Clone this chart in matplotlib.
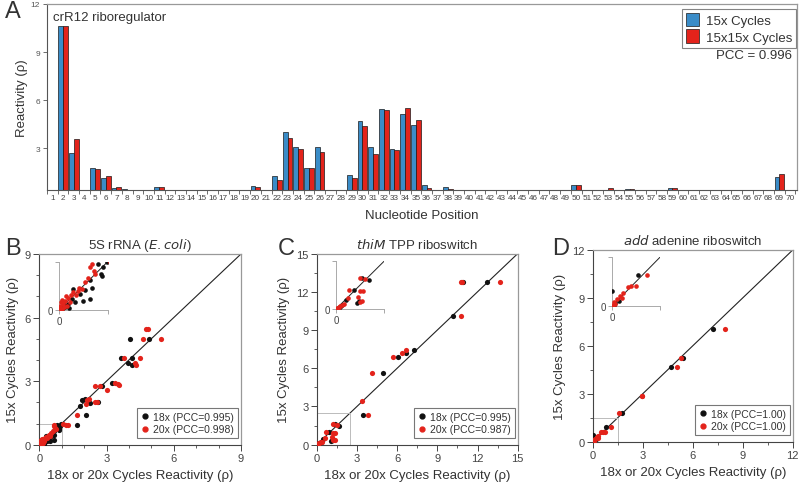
import matplotlib
matplotlib.use("Agg")
import matplotlib.pyplot as plt
from matplotlib.patches import Rectangle
from matplotlib.lines import Line2D
import numpy as np

plt.rcParams['font.family'] = ['Liberation Sans', 'DejaVu Sans']

# ---------------- Panel A data ----------------
positions = list(range(1, 71))
vals_15x = {2: 10.6, 3: 2.69, 5: 1.77, 6: 1.14, 7: 0.50, 8: 0.44, 11: 0.60, 20: 0.64,
            22: 1.25, 23: 4.00, 24: 3.06, 25: 1.77, 26: 3.06, 28: 0.42, 29: 1.33,
            30: 4.69, 31: 3.06, 32: 5.46, 33: 2.96, 34: 5.12, 35: 4.46, 36: 0.69,
            38: 0.58, 50: 0.73, 53: 0.42, 55: 0.44, 57: 0.42, 59: 0.54, 69: 1.20}
vals_15x15x = {2: 10.64, 3: 3.58, 5: 1.69, 6: 1.25, 7: 0.56, 8: 0.42, 11: 0.60, 20: 0.56,
               22: 1.04, 23: 3.64, 24: 2.96, 25: 1.77, 26: 2.77, 28: 0.40, 29: 1.14,
               30: 4.39, 31: 2.64, 32: 5.39, 33: 2.89, 34: 5.54, 35: 4.77, 36: 0.54,
               38: 0.46, 50: 0.73, 53: 0.50, 55: 0.45, 57: 0.42, 59: 0.54, 69: 1.41}
series_15x = [vals_15x.get(p, 0.0) for p in positions]
series_15x15x = [vals_15x15x.get(p, 0.0) for p in positions]

# ---------------- Panel B data (5S rRNA) ----------------
B_18x_x = [4.03, 4.91, 3.64, 4.13, 3.96, 4.12, 2.79, 3.24, 1.90, 2.04, 1.80, 2.27, 2.64, 2.08, 1.67,
           0.98, 0.81, 0.91, 0.86, 0.88, 0.64, 0.67, 0.53, 0.43, 0.64, 0.50, 0.33, 0.26, 0.19, 0.12,
           0.29, 0.05, 0.08, 0.15, 0.02, 0.10, 0.20]
B_18x_y = [4.99, 4.99, 4.07, 4.10, 3.87, 3.78, 2.75, 2.93, 2.12, 2.15, 1.84, 1.97, 2.03, 1.40, 0.93,
           1.00, 0.95, 0.90, 0.74, 0.71, 0.63, 0.45, 0.41, 0.33, 0.23, 0.19, 0.16, 0.23, 0.12, 0.06,
           0.43, 0.02, 0.04, 0.08, 0.00, 0.10, 0.05]
B_20x_x = [4.78, 4.85, 4.64, 5.44, 3.76, 4.48, 4.29, 4.33, 2.48, 2.72, 3.03, 3.39, 3.50, 3.57,
           2.15, 2.24, 2.09, 2.49, 2.57, 1.70, 1.20, 1.27, 1.05,
           0.67, 0.64, 0.71, 0.74, 0.60, 0.53, 0.47, 0.38, 0.29, 0.24, 0.19, 0.12, 0.05, 0.09,
           0.02, 0.03, 0.16, 0.22, 0.10, 0.06, 0.14, 0.35, 0.42, 0.02, 0.07]
B_20x_y = [5.46, 5.46, 4.99, 4.99, 4.07, 4.10, 3.85, 3.78, 2.75, 2.75, 2.60, 2.93, 2.87, 2.80,
           2.12, 2.15, 1.93, 2.03, 2.03, 1.40, 0.95, 0.93, 1.00,
           0.95, 0.88, 0.81, 0.74, 0.66, 0.57, 0.43, 0.40, 0.37, 0.30, 0.24, 0.19, 0.16, 0.12,
           0.09, 0.05, 0.09, 0.16, 0.06, 0.20, 0.28, 0.30, 0.45, 0.02, 0.03]

# ---------------- Panel C data (thiM TPP) ----------------
C_18x_x = [10.94, 12.69, 10.20, 7.28, 6.66, 6.09, 4.97, 3.43, 1.69, 1.37, 0.94, 1.19, 1.10,
           0.50, 0.30, 0.10, 0.20, 0.05]
C_18x_y = [12.76, 12.76, 10.08, 7.46, 7.17, 6.89, 5.61, 2.33, 1.49, 1.62, 0.97, 0.40, 0.30,
           0.45, 0.20, 0.05, 0.10, 0.00]
C_20x_x = [10.75, 10.85, 13.68, 10.74, 6.64, 6.34, 5.72, 4.10, 3.38, 3.85, 1.24, 1.49, 0.69,
           1.24, 1.39, 1.12, 1.37, 1.25, 0.30, 0.40, 0.15, 0.05, 0.20, 0.60, 0.10]
C_20x_y = [12.76, 12.76, 12.76, 10.08, 7.46, 7.17, 6.89, 5.61, 3.41, 2.33, 1.62, 1.55, 0.97,
           0.93, 0.93, 0.60, 0.40, 0.35, 0.20, 0.25, 0.10, 0.05, 0.15, 0.55, 0.02]

# ---------------- Panel D data (add adenine) ----------------
D_18x_x = [7.20, 4.68, 5.44, 1.78, 0.80, 0.00, 0.10, 0.05, 0.20]
D_18x_y = [7.05, 4.67, 5.23, 1.78, 0.94, 0.44, 0.08, 0.02, 0.15]
D_20x_x = [7.94, 5.04, 5.28, 2.98, 2.93, 1.60, 1.10, 0.50, 0.60, 0.75, 0.34, 0.24, 0.14,
           0.05, 0.02, 0.30, 0.10]
D_20x_y = [7.05, 4.67, 5.23, 2.85, 2.85, 1.78, 0.94, 0.58, 0.60, 0.60, 0.38, 0.31, 0.20,
           0.10, 0.03, 0.25, 0.05]

BLUE = '#3a8cc8'
RED = '#e3231b'
TXT = '#333333'
TICKC = '#444444'

fig = plt.figure(figsize=(8, 4.85), dpi=100)

# ---------------- Panel A ----------------
axA = fig.add_axes([0.05875, 0.6062, 0.9375, 0.3835])
x = np.array(positions)
w = 0.45
axA.bar(x - w / 2, series_15x, width=w, color=BLUE, edgecolor='#1a1a1a', linewidth=0.5,
        label='15x Cycles')
axA.bar(x + w / 2, series_15x15x, width=w, color=RED, edgecolor='#1a1a1a', linewidth=0.5,
        label='15x15x Cycles')
axA.set_xlim(0.55, 70.65)
axA.set_ylim(0.4, 12)
axA.set_yticks([3, 6, 9, 12])
axA.set_xticks(positions)
axA.set_xticklabels([str(p) for p in positions])
axA.set_xticks(np.arange(0.5, 71, 1.0), minor=True)
axA.tick_params(axis='x', which='major', length=0, labelsize=5.9, colors='#444444', pad=3)
axA.tick_params(axis='x', which='minor', length=3, width=0.6, color='#555555', direction='out')
axA.tick_params(axis='y', which='major', length=3, width=0.6, labelsize=6, colors='#555555', pad=2)
for s in ['left', 'bottom']:
    axA.spines[s].set_color('#555555')
    axA.spines[s].set_linewidth(0.8)
for s in ['top', 'right']:
    axA.spines[s].set_color('#999999')
    axA.spines[s].set_linewidth(0.9)
axA.set_ylabel('Reactivity (ρ)', fontsize=9.5, color=TXT, labelpad=2)
axA.set_xlabel('Nucleotide Position', fontsize=9.5, color=TXT, labelpad=6)
axA.text(0.008, 0.93, 'crR12 riboregulator', transform=axA.transAxes, fontsize=9.5, color=TXT,
         va='center', ha='left')
legA = axA.legend(loc='upper right', bbox_to_anchor=(0.9985, 0.975), fontsize=9.5, frameon=True,
                  fancybox=False, edgecolor='#666666', handlelength=1.0, handleheight=1.2,
                  handletextpad=0.5, borderpad=0.3, labelspacing=0.2, borderaxespad=0.0)
legA.get_frame().set_linewidth(0.8)
for t in legA.get_texts():
    t.set_color(TXT)
axA.text(0.993, 0.725, 'PCC = 0.996', transform=axA.transAxes, fontsize=9.5, color=TXT,
         ha='right', va='center')
fig.text(0.006, 0.975, 'A', fontsize=17, color=TXT, va='center', ha='left')


def scatter_panel(rect, inset_rect, lim, minor_step, irange, xs18, ys18, xs20, ys20,
                  pcc18, pcc20, title, letter, letter_pos, leg_anchor):
    ax = fig.add_axes(rect)
    ax.plot([0, lim], [0, lim], color='#222222', lw=0.8, zorder=1)
    ax.add_patch(Rectangle((0, 0), irange, irange, fill=False, edgecolor='#bbbbbb', lw=0.7,
                           zorder=1))
    ax.scatter(xs18, ys18, s=14, color='#111111', zorder=3, linewidths=0)
    ax.scatter(xs20, ys20, s=14, color=RED, zorder=3, linewidths=0)
    ax.set_xlim(0, lim)
    ax.set_ylim(0, lim)
    ticks = np.arange(0, lim + 0.01, 3)
    ax.set_xticks(ticks)
    ax.set_yticks(ticks)
    ax.set_xticklabels([f'{t:g}' for t in ticks])
    ax.set_yticklabels([f'{t:g}' for t in ticks])
    ax.set_xticks(np.arange(0, lim + 0.01, minor_step), minor=True)
    ax.set_yticks(np.arange(0, lim + 0.01, minor_step), minor=True)
    ax.tick_params(which='major', length=4, width=0.7, labelsize=8, colors=TICKC, pad=2)
    ax.tick_params(which='minor', length=2.5, width=0.6, color=TICKC)
    for s in ['left', 'bottom']:
        ax.spines[s].set_color('#444444')
        ax.spines[s].set_linewidth(0.8)
    for s in ['top', 'right']:
        ax.spines[s].set_color('#999999')
        ax.spines[s].set_linewidth(0.9)
    ax.set_xlabel('18x or 20x Cycles Reactivity (ρ)', fontsize=9.5, color=TXT, labelpad=4)
    ax.set_ylabel('15x Cycles Reactivity (ρ)', fontsize=9.5, color=TXT, labelpad=4)
    ax.set_title(title, fontsize=9.5, color=TXT, pad=4)
    h18 = Line2D([], [], marker='o', ls='', color='#111111', markersize=3.5,
                 label=f'18x (PCC={pcc18})')
    h20 = Line2D([], [], marker='o', ls='', color=RED, markersize=3.5,
                 label=f'20x (PCC={pcc20})')
    leg = ax.legend(handles=[h18, h20], loc='lower right', bbox_to_anchor=leg_anchor,
                    fontsize=7.5, frameon=True, fancybox=False, edgecolor='#555555',
                    handlelength=0.8, handletextpad=0.4, borderpad=0.35, labelspacing=0.25,
                    borderaxespad=0.0)
    leg.get_frame().set_linewidth(0.8)
    for t in leg.get_texts():
        t.set_color(TXT)
    fig.text(letter_pos[0], letter_pos[1], letter, fontsize=17, color=TXT, va='center', ha='left')

    ins = fig.add_axes(inset_rect)
    ins.plot([0, irange], [0, irange], color='#222222', lw=0.7, zorder=1)
    ins.scatter(xs18, ys18, s=11, color='#111111', zorder=3, linewidths=0, clip_on=True)
    ins.scatter(xs20, ys20, s=11, color=RED, zorder=3, linewidths=0, clip_on=True)
    ins.set_xlim(0, irange)
    ins.set_ylim(0, irange)
    ins.patch.set_alpha(0)
    for s in ['top', 'right']:
        ins.spines[s].set_visible(False)
    for s in ['left', 'bottom']:
        ins.spines[s].set_color('#aaaaaa')
        ins.spines[s].set_linewidth(0.7)
    ins.set_xticks([0, irange])
    ins.set_yticks([0, irange])
    ins.set_xticklabels(['0', ''])
    ins.set_yticklabels(['0', ''])
    ins.tick_params(length=3, width=0.6, color='#999999', labelsize=7, labelcolor=TICKC, pad=1.5)
    return ax


scatter_panel([0.0491, 0.0810, 0.2521, 0.3932], [0.07375, 0.3588, 0.0609, 0.0996], 9, 1.0, 1.0,
              B_18x_x, B_18x_y, B_20x_x, B_20x_y, '0.995', '0.998',
              '5S rRNA ($\\it{E. coli}$)', 'B', (0.006, 0.487), (0.985, 0.035))
scatter_panel([0.3959, 0.0810, 0.2513, 0.3941], [0.42, 0.3608, 0.0604, 0.099], 15, 1.5, 2.5,
              C_18x_x, C_18x_y, C_20x_x, C_20x_y, '0.995', '0.987',
              '$\\it{thiM}$ TPP riboswitch', 'C', (0.347, 0.487), (0.985, 0.035))
scatter_panel([0.7409, 0.0872, 0.25, 0.3953], [0.7654, 0.3676, 0.0596, 0.100], 12, 1.5, 1.5,
              D_18x_x, D_18x_y, D_20x_x, D_20x_y, '1.00', '1.00',
              '$\\it{add}$ adenine riboswitch', 'D', (0.69, 0.487), (0.985, 0.035))

fig.savefig('out.png', dpi=100)
